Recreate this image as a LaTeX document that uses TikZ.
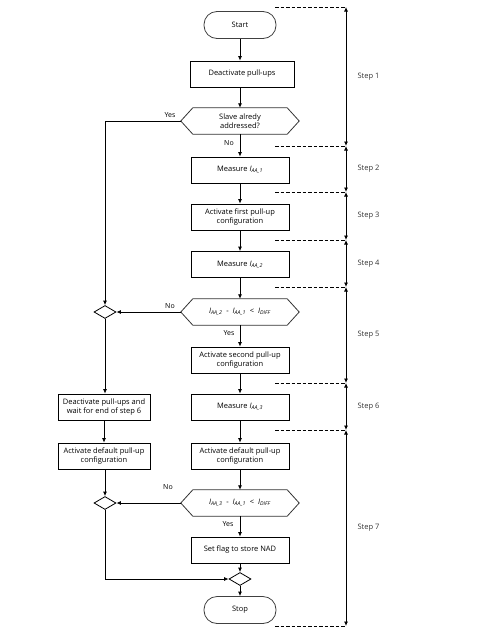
\documentclass[tikz,border=0pt]{standalone}
\usepackage{fontspec}
\setmainfont{Open Sans}
\usetikzlibrary{arrows.meta,shapes.geometric,calc}
\newcommand{\Isub}[1]{\textit{I}\textsubscript{\textit{#1}}}
\begin{document}
\begin{tikzpicture}[x=1pt,y=-1pt, font=\fontsize{7.5}{9.5}\selectfont,
 box/.style={draw, line width=0.8pt, minimum width=98pt, minimum height=26pt, align=center, inner sep=1pt},
 lbox/.style={box, minimum width=92pt},
 term/.style={draw=black!75, line width=0.8pt, rounded corners=13pt, minimum width=72pt, minimum height=27pt},
 hexin/.style={minimum width=94pt, minimum height=26pt, align=center, inner sep=0pt},
 hexline/.style={draw=black!80, line width=0.8pt},
 dia/.style={draw, diamond, line width=0.8pt, minimum width=22pt, minimum height=13pt, inner sep=0pt},
 arr/.style={-{Latex[length=4.5pt,width=4pt]}, line width=0.8pt},
 stepar/.style={{Latex[length=4.5pt,width=4pt]}-{Latex[length=4.5pt,width=4pt]}, line width=0.8pt},
 dline/.style={dashed, dash pattern=on 3.5pt off 2pt, line width=0.8pt},
 lbl/.style={font=\fontsize{7}{8}\selectfont},
 steplbl/.style={anchor=west, text=black!80, font=\fontsize{7.5}{9}\selectfont}
]
\useasboundingbox (0,0) rectangle (484,635);

% main column
\node[term] (start) at (240,25) {Start};
\node[box, minimum width=104pt] (d1) at (242,74) {Deactivate pull-ups};
\node[hexin] (h1) at (240,121) {Slave alredy\\addressed?};
\node[box] (m1) at (240,170) {Measure \Isub{AA\_1}};
\node[box] (a1) at (240,217) {Activate first pull-up\\configuration};
\node[box] (m2) at (240,264.5) {Measure \Isub{AA\_2}};
\node[hexin] (h2) at (240,312) {\Isub{AA\_2}\ \ -\ \ \Isub{AA\_1}\ \ <\ \ \Isub{DIFF}};
\node[box] (a2) at (240,360) {Activate second pull-up\\configuration};
\node[box] (m3) at (240,407) {Measure \Isub{AA\_3}};
\node[box] (a3) at (240,456) {Activate default pull-up\\configuration};
\node[hexin] (h3) at (240,503) {\Isub{AA\_3}\ \ -\ \ \Isub{AA\_1}\ \ <\ \ \Isub{DIFF}};
\node[box] (sf) at (240,550) {Set flag to store NAD};
\node[dia] (dm3) at (240,579) {};
\node[term] (stop) at (240,610) {Stop};

% left column
\node[dia] (dm1) at (105,312) {};
\node[lbox] (l1) at (104,407) {Deactivate pull-ups and\\wait for end of step 6};
\node[lbox] (l2) at (104,456) {Activate default pull-up\\configuration};
\node[dia] (dm2) at (105,503) {};

% hexagon outlines
\foreach \h in {h1,h2,h3}{
  \coordinate (\h l) at ($(\h.west)+(-12,0)$);
  \coordinate (\h r) at ($(\h.east)+(12,0)$);
  \draw[hexline] (\h.north west) -- (\h.north east) -- (\h r) -- (\h.south east)
     -- (\h.south west) -- (\h l) -- cycle;
}

% connectors main
\draw[arr] (start) -- (d1.north -| start.south);
\draw[arr] (d1.south -| h1.north) -- (h1.north);
\draw[arr] (h1.south) -- (m1);
\draw[arr] (m1) -- (a1);
\draw[arr] (a1) -- (m2);
\draw[arr] (m2) -- (h2.north);
\draw[arr] (h2.south) -- (a2);
\draw[arr] (a2) -- (m3);
\draw[arr] (m3) -- (a3);
\draw[arr] (a3) -- (h3.north);
\draw[arr] (h3.south) -- (sf);
\draw[arr] (sf) -- (dm3);
\draw[arr] (dm3) -- (stop);

% connectors left
\draw[arr] (h1l) -| (dm1.north);
\draw[arr] (h2l) -- (dm1.east);
\draw[arr] (dm1.south) -- (dm1.south |- l1.north);
\draw[arr] (l1) -- (l2);
\draw[arr] (l2.south -| dm2.north) -- (dm2.north);
\draw[arr] (h3l) -- (dm2.east);
\draw[arr] (dm2.south) |- (dm3.west);

% labels
\node[lbl] at (170,115) {Yes};
\node[lbl] at (229,143) {No};
\node[lbl] at (170,306) {No};
\node[lbl] at (229,333) {Yes};
\node[lbl] at (168,487) {No};
\node[lbl] at (228,524) {Yes};

% steps
\foreach \i/\y in {0/7,1/146,2/192,3/240,4/287,5/383,6/430,7/626}{
  \coordinate (s\i) at (346,\y);
  \draw[dline] ($(s\i)+(-71,0)$) -- (s\i);
}
\foreach \a/\b/\n in {0/1/1,1/2/2,2/3/3,3/4/4,4/5/5,5/6/6,6/7/7}{
  \draw[stepar] (s\a) -- (s\b);
  \node[steplbl] at ($(s\a)!0.5!(s\b)+(8,0)$) {Step \n};
}
\end{tikzpicture}
\end{document}
